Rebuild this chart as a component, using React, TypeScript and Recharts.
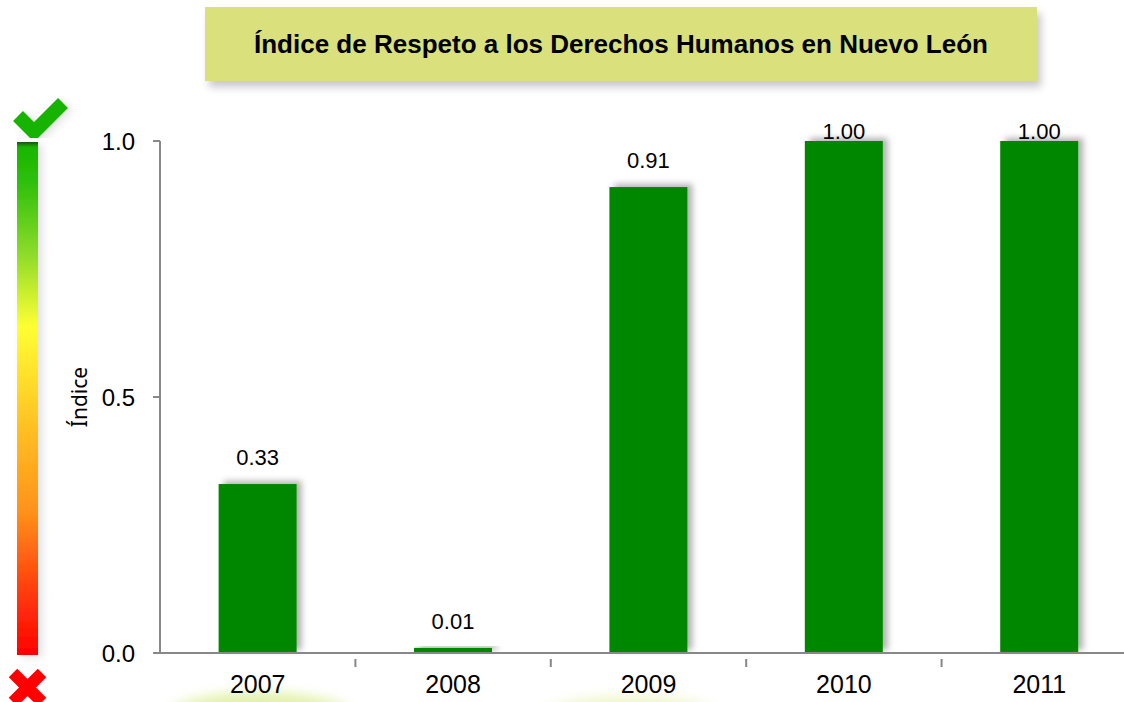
import React from "react";
import { BarChart, Bar, XAxis, YAxis, LabelList } from "recharts";

const years = ["2007", "2008", "2009", "2010", "2011"];
const indexValues = [0.33, 0.01, 0.91, 1.0, 1.0];
const yTicks = [0, 0.5, 1];

const data = years.map((year, i) => ({ year, value: indexValues[i] }));

const PLOT_TOP = 141;

const BarLabel = (props: any) => {
  const { x, y, width, value } = props;
  const cy = Math.max(y - 27, PLOT_TOP - 10);
  return (
    <text
      x={x + width / 2}
      y={cy}
      dy={8}
      textAnchor="middle"
      fontSize={22}
      fill="#000"
      fontFamily="'Liberation Sans', Arial, sans-serif"
    >
      {Number(value).toFixed(2)}
    </text>
  );
};

const YearTick = (props: any) => {
  const { x, y, payload, index, width } = props;
  const step = width / years.length;
  return (
    <g>
      {index < years.length - 1 && (
        <line x1={x + step / 2} y1={y - 2} x2={x + step / 2} y2={y + 6} stroke="#888" strokeWidth={2} />
      )}
      <text x={x} y={y + 32} textAnchor="middle" fontSize={25} fill="#000">
        {payload.value}
      </text>
    </g>
  );
};

const ShadowBar = (props: any) => {
  const { x, y, width, height, fill } = props;
  return <rect x={x} y={y} width={width} height={height} fill={fill} filter="url(#barShadow)" />;
};

export default function App() {
  return (
    <div
      style={{
        position: "absolute",
        left: 0,
        top: 0,
        width: 1124,
        height: 702,
        overflow: "hidden",
        background: "#fff",
        fontFamily: "'Liberation Sans', Arial, sans-serif",
      }}
    >
      <svg width={0} height={0} style={{ position: "absolute" }}>
        <defs>
          <filter id="barShadow" x="-20%" y="-20%" width="150%" height="140%">
            <feDropShadow dx={5} dy={-3} stdDeviation={3} floodColor="#000" floodOpacity={0.3} />
          </filter>
          <filter id="softShadow" x="-50%" y="-20%" width="250%" height="140%">
            <feDropShadow dx={4} dy={2} stdDeviation={4} floodColor="#000" floodOpacity={0.12} />
          </filter>
          <filter id="blob" x="-50%" y="-50%" width="200%" height="200%">
            <feGaussianBlur stdDeviation={6} />
          </filter>
          <linearGradient id="scale" x1="0" y1="0" x2="0" y2="1">
            <stop offset="0%" stopColor="#1f4f14" />
            <stop offset="1%" stopColor="#18b600" />
            <stop offset="8%" stopColor="#2fc00a" />
            <stop offset="22%" stopColor="#8edc2a" />
            <stop offset="36%" stopColor="#ffff33" />
            <stop offset="55%" stopColor="#ffc224" />
            <stop offset="72%" stopColor="#ff921a" />
            <stop offset="88%" stopColor="#ff3a0c" />
            <stop offset="100%" stopColor="#ff0000" />
          </linearGradient>
        </defs>
      </svg>

      {/* decorative bottom blobs and colour scale */}
      <svg width={1124} height={702} style={{ position: "absolute", left: 0, top: 0 }}>
        <ellipse cx={260} cy={718} rx={95} ry={26} fill="#dcee98" opacity={0.8} filter="url(#blob)" />
        <ellipse cx={630} cy={720} rx={95} ry={24} fill="#e8f3b4" opacity={0.7} filter="url(#blob)" />
        <rect x={17} y={142} width={21} height={513} fill="url(#scale)" filter="url(#softShadow)" />
        <polyline
          points="18,116 34,132 63,103"
          fill="none"
          stroke="#15b400"
          strokeWidth={14}
          strokeLinejoin="miter"
          filter="url(#softShadow)"
        />
        <line x1={13} y1={673} x2={42} y2={702} stroke="#ff0000" strokeWidth={12} />
        <line x1={42} y1={673} x2={13} y2={702} stroke="#ff0000" strokeWidth={12} />
      </svg>

      <div
        style={{
          position: "absolute",
          left: 205,
          top: 7,
          width: 832,
          height: 74,
          background: "#d9e07c",
          boxShadow: "4px 6px 8px rgba(0,0,0,0.22)",
          display: "flex",
          alignItems: "center",
          justifyContent: "center",
          fontWeight: "bold",
          fontSize: 26,
          color: "#000",
        }}
      >
        Índice de Respeto a los Derechos Humanos en Nuevo León
      </div>

      <div style={{ position: "absolute", left: 0, top: 0 }}>
        <BarChart
          width={1140}
          height={702}
          data={data}
          margin={{ top: PLOT_TOP, right: 3, bottom: 0, left: 0 }}
          barCategoryGap="30%"
        >
          <XAxis
            dataKey="year"
            height={49}
            stroke="#888"
            strokeWidth={2}
            tickLine={false}
            tick={<YearTick />}
            interval={0}
          />
          <YAxis
            width={160}
            domain={[0, 1]}
            ticks={yTicks}
            tickFormatter={(v: number) => v.toFixed(1)}
            stroke="#888"
            strokeWidth={2}
            tickSize={7}
            tickMargin={18}
            tick={{ fontSize: 24, fill: "#000" }}
            label={{
              value: "Índice",
              angle: -90,
              position: "center",
              fontSize: 21,
              fill: "#000",
              fontFamily: "'Noto Sans', sans-serif",
            }}
          />
          <Bar dataKey="value" fill="#068706" isAnimationActive={false} shape={<ShadowBar />}>
            <LabelList dataKey="value" content={<BarLabel />} />
          </Bar>
        </BarChart>
      </div>
    </div>
  );
}
